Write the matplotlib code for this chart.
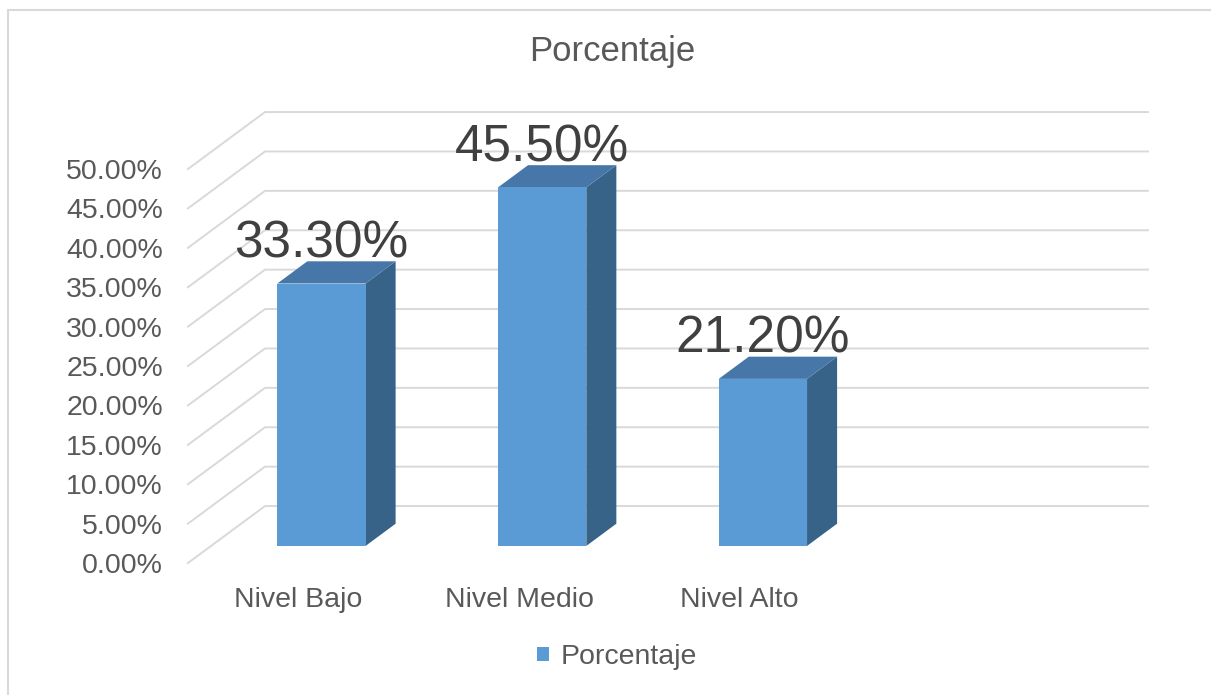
import matplotlib.pyplot as plt
from matplotlib.patches import Polygon, Rectangle

plt.rcParams['font.family'] = ['Liberation Sans', 'DejaVu Sans']

# data
categories = ['Nivel Bajo', 'Nivel Medio', 'Nivel Alto']
values = [33.3, 45.5, 21.2]
value_labels = ['33.30%', '45.50%', '21.20%']
yticks = [0, 5, 10, 15, 20, 25, 30, 35, 40, 45, 50]
series_name = 'Porcentaje'

# colours
front_col = '#5B9BD5'
top_col = '#4677A8'
side_col = '#386389'
grid_col = '#D9D9D9'
text_col = '#595959'

# oblique "3d" depth, in data units (x: category slots, y: percent)
n_slots = 4
depth_x = 0.349
depth_y = 7.23
bar_w = 0.40
f0, f1 = 0.30, 0.69   # depth fractions of the bar front / back faces

fig = plt.figure(figsize=(12.11, 6.95), dpi=100)
ax = fig.add_axes([0.1552, 0.1899, 0.7291, 0.5669])
ax.set_xlim(-0.5, n_slots - 0.5)
ax.set_ylim(0, 50)
for s in ax.spines.values():
    s.set_visible(False)

# chart border
fig.patches.append(Rectangle((8 / 1211, -0.1), 1.2, 1.1 - 10 / 695,
                             transform=fig.transFigure, fill=False,
                             edgecolor=grid_col, lw=1.5))

# gridlines: front-left diagonal then the back wall line
x0, x1 = -0.5, n_slots - 0.5
for v in yticks:
    ax.plot([x0, x0 + depth_x, x1 + depth_x], [v, v + depth_y, v + depth_y],
            color=grid_col, lw=1.4, clip_on=False, zorder=1)

ax.set_yticks(yticks)
ax.set_yticklabels(['%.2f%%' % v for v in yticks], fontsize=20.5, color=text_col)
ax.tick_params(axis='y', length=0, pad=18)

ax.set_xticks(range(len(categories)))
ax.set_xticklabels(categories, fontsize=20.5, color=text_col)
ax.tick_params(axis='x', length=0, pad=17)

front_patch = None
for i, v in enumerate(values):
    xl = i - bar_w / 2 + f0 * depth_x
    xr = xl + bar_w
    yb = f0 * depth_y
    yt = v + f0 * depth_y
    ddx = (f1 - f0) * depth_x
    ddy = (f1 - f0) * depth_y
    side = Polygon([(xr, yb), (xr + ddx, yb + ddy), (xr + ddx, yt + ddy), (xr, yt)],
                   closed=True, facecolor=side_col, edgecolor='none', clip_on=False, zorder=3)
    top = Polygon([(xl, yt), (xr, yt), (xr + ddx, yt + ddy), (xl + ddx, yt + ddy)],
                  closed=True, facecolor=top_col, edgecolor='none', clip_on=False, zorder=3)
    front = Rectangle((xl, yb), bar_w, v, facecolor=front_col, edgecolor='none',
                      clip_on=False, zorder=4, label=series_name)
    ax.add_patch(side)
    ax.add_patch(top)
    ax.add_patch(front)
    if front_patch is None:
        front_patch = front
    ax.annotate(value_labels[i], xy=(i + f0 * depth_x, yt + ddy), xytext=(0, 3),
                textcoords='offset points', ha='center', va='baseline',
                fontsize=37, color='#404040', zorder=6, annotation_clip=False)

fig.text(612 / 1211, 1 - 52 / 695, series_name, ha='center', va='center',
         fontsize=25, color=text_col)

fig.legend(handles=[front_patch], labels=[series_name], loc='center',
           bbox_to_anchor=(617 / 1211, 1 - 657 / 695), frameon=False,
           fontsize=20.5, labelcolor=text_col, handlelength=0.4,
           handleheight=0.4, handletextpad=0.4)

fig.savefig('out.png', dpi=100)
